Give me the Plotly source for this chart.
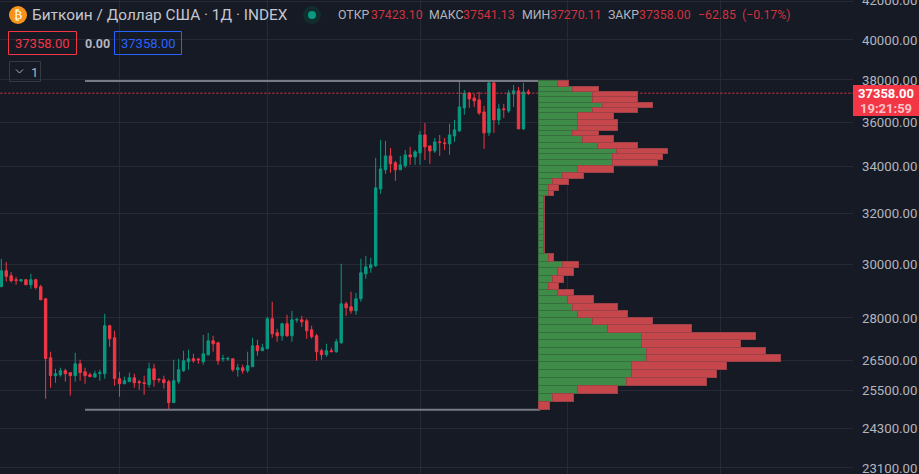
import math
import plotly.graph_objects as go

W, H = 919, 474

# daily candles
opens = [29150, 29745, 29555, 29405, 29365, 29405, 29215, 29405, 29140, 28695, 26605, 26000, 26030, 26165, 26100, 26000, 26400, 26130, 26030, 25955,
         26075, 26065, 27720, 27295, 25900, 25730, 25800, 25930, 25800, 25765, 25700, 26230, 25885, 25865, 25800, 25115, 25800, 26165, 26470, 26570,
         26560, 26470, 26705, 27190, 27120, 26560, 26560, 26570, 26198, 26265, 26165, 26300, 27015, 26845, 26915, 27970, 27470, 27365, 27790, 27365,
         27920, 27932, 27895, 27576, 27365, 26845, 26707, 26845, 26810, 27120, 28510, 28400, 28255, 28695, 29630, 29860, 29935, 33040, 33860, 34470,
         34165, 33860, 34035, 34515, 34425, 34605, 35410, 34915, 34690, 35095, 35050, 35005, 35365, 35595, 36660, 37370, 37130, 37040, 36470, 35505,
         37855, 36100, 36615, 36520, 37325, 37470, 35685, 37423]
highs = [30205, 30080, 29695, 29505, 29440, 29430, 29630, 29440, 29215, 28720, 26810, 26230, 26265, 26230, 26100, 26775, 26536, 26265, 26100, 26165,
         26198, 28150, 27755, 27540, 26130, 25965, 26100, 26065, 25865, 25997, 26435, 26400, 25897, 25997, 25865, 26536, 26570, 26845, 26880, 26741,
         26604, 27400, 27470, 27365, 27155, 26707, 26638, 26570, 26400, 26366, 26810, 27295, 27225, 27085, 28040, 28585, 27610, 27825, 28110, 28255,
         28005, 28075, 27970, 27720, 27435, 26913, 27085, 26947, 27260, 30015, 28585, 28955, 28915, 30205, 30320, 30245, 34385, 35185, 35140, 34825,
         34250, 34470, 34735, 34870, 34735, 35595, 35960, 34915, 35275, 35410, 35275, 35915, 36100, 37950, 37515, 37420, 37325, 37420, 36755, 37950,
         37950, 36850, 36850, 37515, 37755, 37660, 37855, 37541]
lows = [29115, 29340, 29300, 29215, 29315, 29215, 29065, 29040, 28658, 25240, 25600, 25765, 25965, 25800, 25340, 25800, 25830, 25730, 25965, 25930,
        25830, 25900, 26980, 25665, 25305, 25730, 25800, 25600, 25535, 25372, 25600, 25633, 25765, 25567, 24898, 25115, 25730, 26130, 26198, 26436,
        26400, 26365, 26675, 26810, 26365, 26468, 26500, 26131, 25965, 26065, 26098, 26300, 26675, 26845, 26915, 27295, 27155, 27190, 27330, 27155,
        27825, 27682, 27260, 27260, 26500, 26536, 26638, 26776, 26776, 27085, 28075, 28150, 28110, 28585, 29440, 29670, 29895, 32830, 33685, 33730,
        33385, 33860, 33945, 34075, 34075, 34075, 34295, 34120, 34605, 34470, 34735, 34515, 35095, 35550, 36335, 36660, 36705, 36335, 34780, 35365,
        35505, 35870, 36193, 36425, 36705, 35685, 35640, 37270]
closes = [29745, 29530, 29365, 29380, 29405, 29215, 29405, 29115, 28658, 26580, 26000, 26065, 26165, 26065, 26000, 26400, 26100, 26000, 25965, 26065,
          26100, 27720, 27260, 25900, 25730, 25830, 25930, 25765, 25765, 25740, 26230, 25865, 25865, 25765, 25115, 25830, 26198, 26500, 26570, 26500,
          26536, 26740, 27190, 27085, 26500, 26580, 26580, 26198, 26265, 26165, 26333, 27015, 26845, 26945, 27970, 27435, 27365, 27790, 27365, 27930,
          27945, 27860, 27540, 27330, 26810, 26707, 26845, 26820, 27155, 28510, 28365, 28255, 28695, 29670, 29895, 29975, 33085, 33900, 34470, 34120,
          33860, 34075, 34515, 34425, 34650, 35410, 34870, 34690, 35095, 35065, 35020, 35410, 35640, 36705, 37355, 37085, 36990, 36425, 35505, 37855,
          36100, 36615, 36580, 37370, 37470, 35685, 37420, 37358]

# volume profile rows, top to bottom
row_edges = [37950, 37680, 37450, 37180, 36930, 36660, 36430, 36130, 35860, 35630, 35370, 35080, 34810, 34560, 34300, 34030, 33760, 33500, 33240, 32990,
             32750, 32480, 32210, 31950, 31680, 31420, 31160, 30910, 30650, 30400, 30120, 29860, 29580, 29320, 29050, 28800, 28540, 28280, 28020, 27750,
             27495, 27225, 26970, 26710, 26460, 26198, 25930, 25670, 25400, 25150, 24888]
vol_up = [58, 103, 163, 163, 193, 163, 118, 118, 118, 103, 133, 178, 235, 223, 223, 118, 73, 43, 31, 31,
          16, 16, 16, 16, 16, 16, 16, 16, 16, 31, 73, 58, 43, 31, 58, 88, 103, 118, 163, 208,
          310, 310, 325, 325, 280, 280, 265, 118, 43, 0]
vol_down = [32, 77, 134, 134, 149, 134, 107, 119, 119, 77, 92, 119, 152, 149, 134, 107, 62, 47, 29, 14,
            2, 2, 2, 2, 2, 2, 2, 2, 2, 14, 47, 47, 32, 29, 47, 77, 134, 149, 179, 251,
            341, 296, 356, 401, 284, 254, 239, 119, 62, 33]

y_ticks = [42000, 40000, 38000, 36000, 34000, 32000, 30000, 28000, 26500, 25500, 24300, 23100]
x_grid = [23.9, 53.95, 85, 115, 146]
last_price = 37358
profile_span = [17, 109.4]
y_range = [math.log10(22917), math.log10(42104)]

UP = '#089981'
DOWN = '#f23645'
BG = '#161a25'
GRID = '#272a35'
TEXT = '#b2b5be'

x_vals = list(range(len(opens)))
# the profile sits on a linear axis of log10(price), lined up with the log price axis
row_mid = [(math.log10(a) + math.log10(b)) / 2 for a, b in zip(row_edges[:-1], row_edges[1:])]
row_w = [math.log10(a / b) for a, b in zip(row_edges[:-1], row_edges[1:])]

fig = go.Figure()
fig.add_trace(go.Candlestick(
    x=x_vals, open=opens, high=highs, low=lows, close=closes,
    increasing=dict(line=dict(color=UP, width=1), fillcolor=UP),
    decreasing=dict(line=dict(color=DOWN, width=1), fillcolor=DOWN),
    whiskerwidth=0, showlegend=False, hoverinfo='skip',
))
fig.add_trace(go.Bar(
    y=row_mid, x=vol_up, width=row_w, orientation='h', xaxis='x2', yaxis='y2',
    marker=dict(color='#3f8c48', line=dict(color='#376e40', width=1)), hoverinfo='skip',
))
fig.add_trace(go.Bar(
    y=row_mid, x=vol_down, width=row_w, orientation='h', xaxis='x2', yaxis='y2',
    marker=dict(color='#c5474c', line=dict(color='#9e4147', width=1)), hoverinfo='skip',
))
for level in (row_edges[0], row_edges[-1]):
    fig.add_trace(go.Scatter(
        x=profile_span, y=[level, level], mode='lines',
        line=dict(color='#787b86', width=2), hoverinfo='skip',
    ))
fig.add_trace(go.Scatter(
    x=[-1, 175], y=[last_price, last_price], mode='lines',
    line=dict(color=DOWN, width=1, dash='2px,2px'), hoverinfo='skip',
))


def label(x, y, text, color=TEXT, size=13, anchor='left'):
    fig.add_annotation(
        xref='paper', yref='paper', x=x / W, y=1 - y / H, text=text, showarrow=False,
        xanchor=anchor, yanchor='middle', borderpad=0, font=dict(color=color, size=size),
    )


def box(x0, y0, x1, y1, line=None, fill=None, circle=False):
    fig.add_shape(
        type='circle' if circle else 'rect', xref='paper', yref='paper',
        x0=x0 / W, x1=x1 / W, y0=1 - y0 / H, y1=1 - y1 / H,
        line=dict(color=line, width=1) if line else dict(width=0), fillcolor=fill, layer='above',
    )


# header
box(9, 6, 27, 24, fill='#f7931a', circle=True)
label(18, 15, '₿', '#ffffff', 12, 'center')
label(31, 15, 'Биткоин / Доллар США · 1Д · INDEX', '#c4c6cf', 15.4)
box(303, 6, 321, 24, fill='#112d2e', circle=True)
box(308, 11, 316, 19, fill=UP, circle=True)
for x, text, color in [
    (337, 'ОТКР', TEXT), (370, '37423.10', '#d0323f'),
    (428, 'МАКС', TEXT), (462, '37541.13', '#d0323f'),
    (521, 'МИН', TEXT), (549, '37270.11', '#d0323f'),
    (607, 'ЗАКР', TEXT), (638, '37358.00', '#d0323f'),
    (697, '−62.85', '#d0323f'), (741, '(−0.17%)', '#d0323f'),
]:
    label(x, 15, text, color, 12.3)

box(8.5, 31.5, 76.5, 54.5, line=DOWN)
label(42.5, 43, '37358.00', DOWN, 13, 'center')
label(84, 43, '<b>0.00</b>', TEXT, 12.5)
box(114.5, 31.5, 181.5, 54.5, line='#2962ff')
label(148, 43, '37358.00', '#2962ff', 13, 'center')
box(9.5, 61.5, 40.5, 81.5, line='#363a45')
fig.add_shape(type='path', xref='paper', yref='paper', layer='above',
              path=f'M {16 / W} {1 - 69.5 / H} L {19.5 / W} {1 - 73 / H} L {23 / W} {1 - 69.5 / H}',
              line=dict(color=TEXT, width=1))
label(30, 72, '1', TEXT, 13)

# last price tag
box(853, 85, 919, 116, fill=DOWN)
label(885.5, 93.5, '<b>37358.00</b>', '#ffffff', 13, 'center')
label(885.5, 108, '<b>19:21:59</b>', '#fbc3c8', 13, 'center')

# plotly drops the two tick labels that run off the page, so these two are placed by hand
label(861, 1, f'{y_ticks[0]:.2f}', TEXT, 13.2)
label(861, 468, f'{y_ticks[-1]:.2f}', TEXT, 13.2)

fig.update_layout(
    width=W, height=H, autosize=False,
    margin=dict(l=0, r=0, t=0, b=0),
    paper_bgcolor=BG, plot_bgcolor=BG,
    font=dict(family='Roboto', color=TEXT, size=13),
    showlegend=False, barmode='stack', hovermode=False,
    xaxis=dict(domain=[0, 853 / W], range=[-0.264, 172.9], tickvals=x_grid, showticklabels=False,
               gridcolor=GRID, gridwidth=1, zeroline=False, rangeslider=dict(visible=False), ticks=''),
    xaxis2=dict(domain=[0, 853 / W], range=[-1614, 945], overlaying='x', visible=False, anchor='y2'),
    yaxis=dict(type='log', range=y_range, side='right', anchor='x',
               tickvals=y_ticks, ticktext=[f'{v:.2f}' for v in y_ticks], ticklabelstandoff=8,
               tickfont=dict(size=13.2, color=TEXT), gridcolor=GRID, gridwidth=1, zeroline=False, ticks=''),
    yaxis2=dict(range=y_range, overlaying='y', anchor='x2', visible=False),
)

fig.write_html("out.html", config=dict(displayModeBar=False),
               post_script="document.body.style.margin='0';document.body.style.background='#161a25';")
